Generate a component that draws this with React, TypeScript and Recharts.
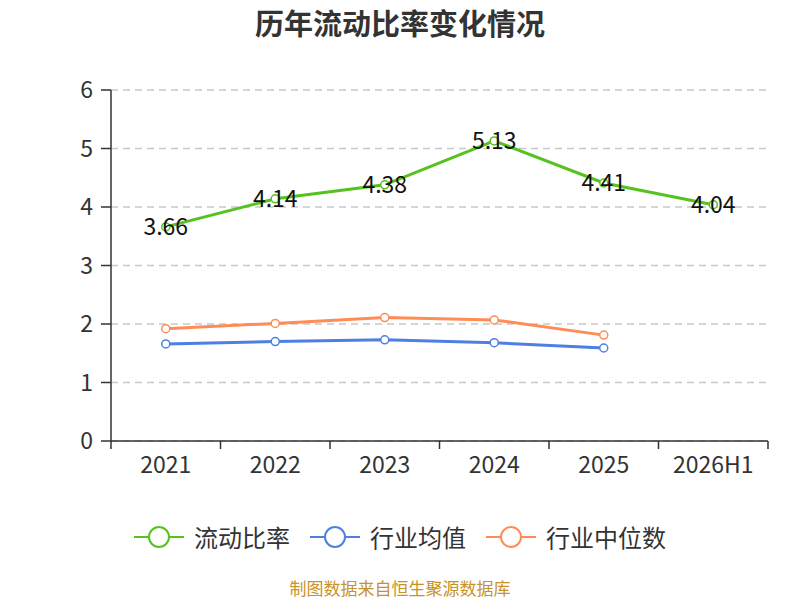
import { LineChart, Line, XAxis, YAxis, CartesianGrid, LabelList } from 'recharts';

const years = ['2021', '2022', '2023', '2024', '2025', '2026H1'];
const currentRatio = [3.66, 4.14, 4.38, 5.13, 4.41, 4.04];
const industryAvg = [1.66, 1.7, 1.73, 1.68, 1.59, null];
const industryMedian = [1.92, 2.01, 2.11, 2.07, 1.81, null];
const yTicks = [0, 1, 2, 3, 4, 5, 6];

const data = years.map((year, i) => ({
  year,
  ratio: currentRatio[i],
  avg: industryAvg[i],
  median: industryMedian[i],
}));

const series = [
  { key: 'ratio', name: '流动比率', color: '#56c21f' },
  { key: 'avg', name: '行业均值', color: '#4d80e2' },
  { key: 'median', name: '行业中位数', color: '#ff8c57' },
];

const font = '"Noto Sans CJK SC", "Noto Sans", sans-serif';

const W = 800;
const H = 600;
const margin = { top: 90, right: 32, left: 59, bottom: 129 };
const yAxisWidth = 52;
const band = (W - margin.left - margin.right - yAxisWidth) / years.length;

// category tick: label at band centre, tick marks on band edges
function XTick(props: any) {
  const { x, y, payload, index } = props;
  return (
    <g>
      <line x1={x - band / 2} y1={y} x2={x - band / 2} y2={y + 8} stroke="#333" strokeWidth={1.5} />
      {index === years.length - 1 && (
        <line x1={x + band / 2} y1={y} x2={x + band / 2} y2={y + 8} stroke="#333" strokeWidth={1.5} />
      )}
      <text x={x} y={y + 32} textAnchor="middle" fontSize={23} fill="#333" fontFamily={font}>
        {payload.value}
      </text>
    </g>
  );
}

export default function App() {
  return (
    <div style={{ position: 'absolute', left: 0, top: 0, width: W, height: H, background: '#fff', fontFamily: font }}>
      <div style={{ position: 'absolute', top: 4, width: W, textAlign: 'center', fontSize: 29, lineHeight: '36px', fontWeight: 'bold', color: '#333' }}>
        历年流动比率变化情况
      </div>
      <LineChart width={W} height={H} data={data} margin={margin}>
        <CartesianGrid strokeDasharray="7 5" vertical={false} stroke="#c8c8c8" strokeWidth={1.5} />
        <XAxis
          dataKey="year"
          scale="band"
          stroke="#333"
          strokeWidth={1.5}
          tickLine={false}
          tickSize={0}
          tickMargin={0}
          tick={<XTick />}
          interval={0}
          height={30}
        />
        <YAxis
          domain={[0, 6]}
          ticks={yTicks}
          stroke="#333"
          strokeWidth={1.5}
          tickSize={10}
          tickMargin={8}
          width={yAxisWidth}
          tick={{ fontSize: 23, fill: '#333', fontFamily: font }}
        />
        {series.map((s) => (
          <Line
            key={s.key}
            dataKey={s.key}
            name={s.name}
            stroke={s.color}
            strokeWidth={3}
            dot={{ r: 4, fill: '#fff', stroke: s.color, strokeWidth: 1.5 }}
            isAnimationActive={false}
          >
            {s.key === 'ratio' && (
              <LabelList dataKey="ratio" position="center" fontSize={23} fill="#111" fontFamily={font} />
            )}
          </Line>
        ))}
      </LineChart>
      <div style={{ position: 'absolute', top: 521, left: 0, width: W, display: 'flex', justifyContent: 'center', gap: 20 }}>
        {series.map((s) => (
          <div key={s.key} style={{ display: 'flex', alignItems: 'center', fontSize: 24, lineHeight: '32px', color: '#333' }}>
            <svg width={50} height={26} style={{ marginRight: 10 }}>
              <line x1={0} y1={13} x2={50} y2={13} stroke={s.color} strokeWidth={2} />
              <circle cx={25} cy={13} r={10} fill="#fff" stroke={s.color} strokeWidth={2} />
            </svg>
            {s.name}
          </div>
        ))}
      </div>
      <div style={{ position: 'absolute', top: 578, width: W, textAlign: 'center', fontSize: 17, lineHeight: '20px', color: '#c8922a' }}>
        制图数据来自恒生聚源数据库
      </div>
    </div>
  );
}
